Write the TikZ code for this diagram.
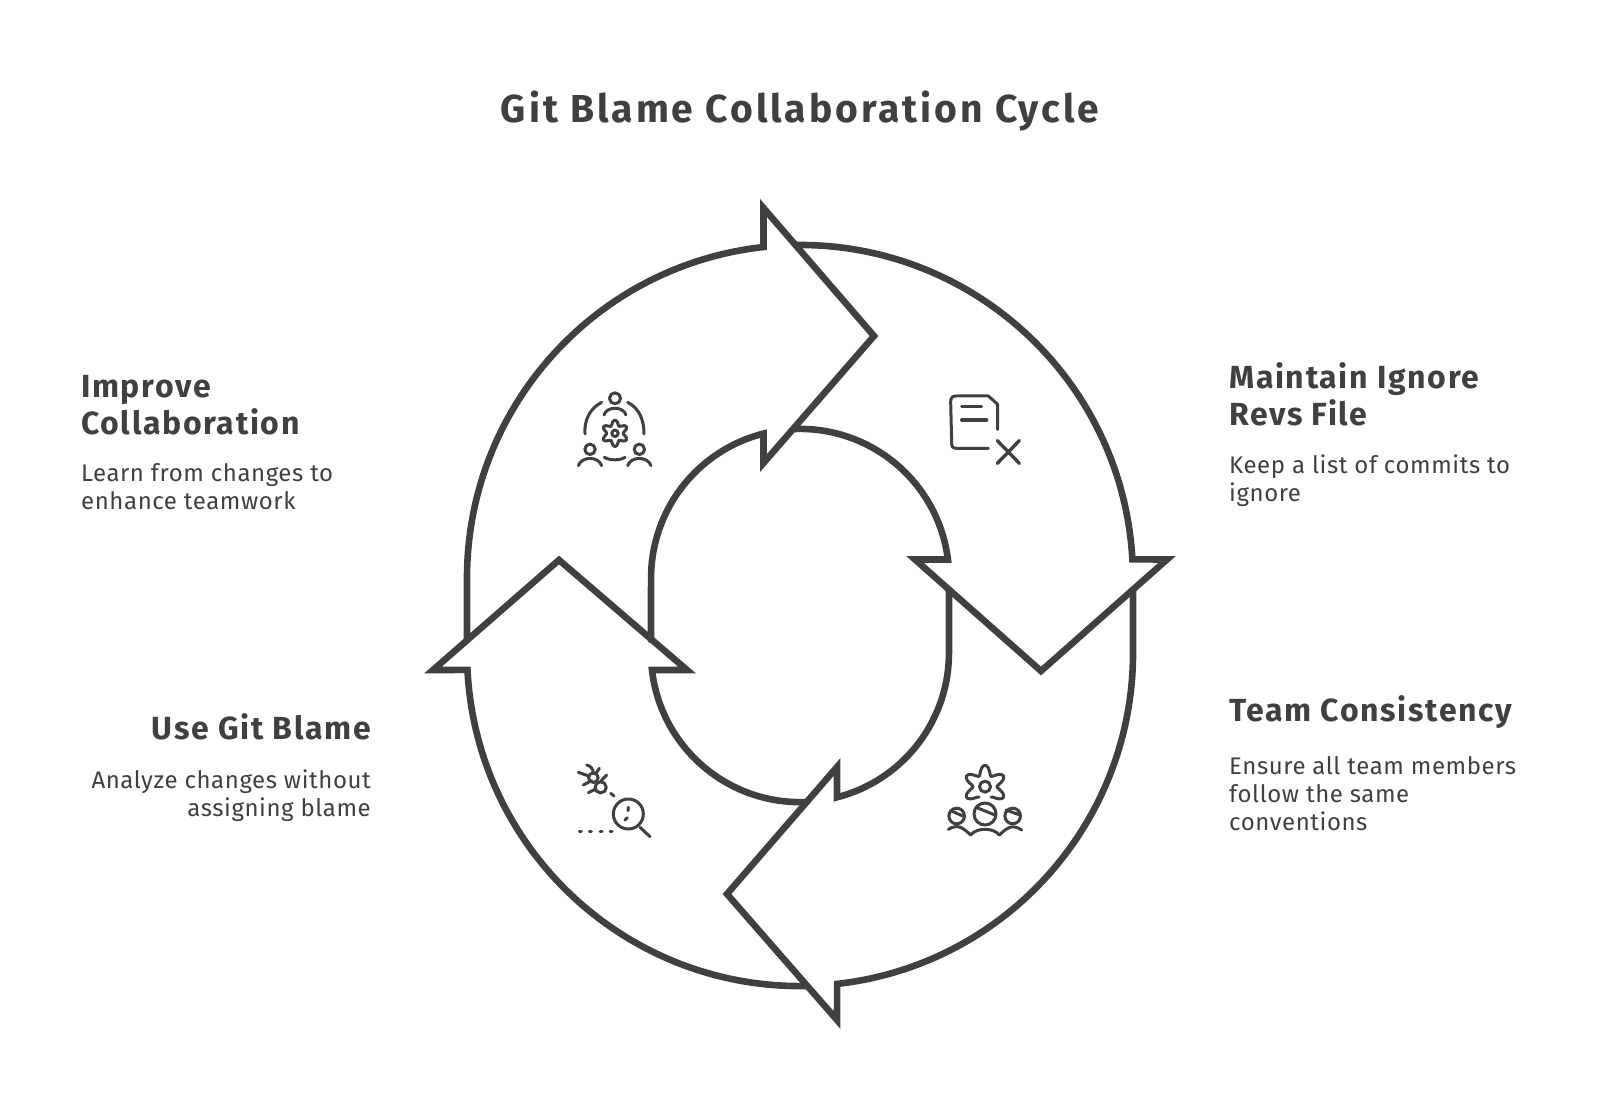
\documentclass[tikz,border=0pt]{standalone}
\usepackage{fontspec}
\setmainfont{Fira Sans}
\newfontfamily\titlefont[LetterSpace=7.6]{Fira Sans}
\newfontfamily\headfont[LetterSpace=5.2]{Fira Sans}
\newfontfamily\capfont[LetterSpace=2.4]{Fira Sans}
\definecolor{ink}{HTML}{404040}
\tikzset{
  ring/.style={draw=ink,line width=6.6pt,line join=miter,line cap=round},
  icon/.style={draw=ink,line width=3pt,line cap=round,line join=round},
  caption/.style={text=ink,inner sep=0pt,font=\capfont\fontsize{24}{28}\selectfont},
  heading/.style={text=ink,inner sep=0pt,font=\headfont\fontsize{32}{37}\selectfont\bfseries},
  maintitle/.style={text=ink,inner sep=0pt,font=\titlefont\fontsize{39}{44}\selectfont\bfseries}
}
\begin{document}
\begin{tikzpicture}[x=1pt,y=1pt]
  \useasboundingbox (0,0) rectangle (1600,1119);

  \node[maintitle] (title) at (800,1008) {Git Blame Collaboration Cycle};

  % the ring, upper centre (800,541), lower centre (800,466)
  \draw[ring] (467,479) -- (467,541) arc (180:96.3:333)
    -- (763.5,911) -- (874,783) -- (763.5,656) -- (763.5,685.4)
    arc (104.2:180:149) -- (651,479);
  \draw[ring] (797,874) arc (90.5:3.2:333)
    -- (1167,559.5) -- (1041,448) -- (915,559.5) -- (947.9,559.5)
    arc (7.1:92.7:149);
  \draw[ring] (1133,529) -- (1133,466) arc (0:-83.6:333)
    -- (837,99) -- (727,225) -- (837,352) -- (837,321.7)
    arc (-75.6:0:149) -- (949,529);
  \draw[ring] (807,133) arc (271.2:182.9:333)
    -- (433,449) -- (559,559) -- (687,449) -- (652,449)
    arc (186.5:272.7:149);

  % improve collaboration
  \begin{scope}[shift={(540,749)},x=1pt/3,y=-1pt/3]
    \draw[icon] (225,85) circle (5.5pt);
    \draw[icon] (192,135) .. controls (200,108) and (250,108) .. (258,135);
    \draw[icon] (185,97) .. controls (150,115) and (132,150) .. (135,192);
    \draw[icon] (263,97) .. controls (298,115) and (312,150) .. (312,192);
    \draw[icon] (150,238) circle (5.2pt);
    \draw[icon] (115,287) .. controls (125,258) and (175,258) .. (185,287);
    \draw[icon] (298,238) circle (5.2pt);
    \draw[icon] (263,287) .. controls (273,258) and (323,258) .. (333,287);
    \draw[icon] (193,262) .. controls (210,272) and (240,272) .. (255,262);
    \draw[icon] (225,190) circle (3.2pt);
    \draw[icon] plot[smooth cycle,samples=36,domain=0:350,shift={(225,190)}] (\x:{32+8*cos(6*(\x-90))});
  \end{scope}

  % maintain ignore revs
  \begin{scope}[shift={(920,749)},x=1pt/3,y=-1pt/3]
    \draw[icon] (205,235) -- (110,235) .. controls (98,235) and (95,230) .. (95,220)
      -- (92,95) .. controls (92,82) and (98,78) .. (110,78) -- (205,78) -- (233,103) -- (233,178);
    \draw[icon] (125,111) -- (185,111);
    \draw[icon,line width=3.4pt] (125,150) -- (200,150);
    \draw[icon,line width=3.4pt] (232,212) -- (298,280) (298,212) -- (232,280);
  \end{scope}

  % use git blame
  \begin{scope}[shift={(560,379)},x=1pt/3,y=-1pt/3]
    \draw[icon] (100,113) circle (4.8pt);
    \draw[icon] (122,142) circle (5.6pt);
    \draw[icon] (80,75) .. controls (92,78) and (98,85) .. (100,98);
    \draw[icon] (55,97) -- (86,108) (70,135) -- (95,122);
    \draw[icon] (118,85) -- (108,100) (140,105) -- (122,124);
    \draw[icon] (85,158) -- (106,148);
    \draw[icon] (152,160) -- (162,168);
    \draw[icon] (205,222) circle (15pt);
    \draw[icon] (240,262) -- (270,290);
    \draw[icon] (205,202) -- (204,212) (195,240) -- (202,233);
    \draw[icon] (58,274) -- (64,274) (88,274) -- (94,274) (120,274) -- (126,274) (150,274) -- (156,274);
  \end{scope}

  % team consistency
  \begin{scope}[shift={(930,369)},x=1pt/3,y=-1pt/3]
    \draw[icon] plot[smooth,samples=61,domain=120:420,shift={(165,110)}] (\x:{50+14*cos(6*(\x-90))});
    \draw[icon] (165,110) circle (5.5pt);
    \draw[icon] (80,198) circle (7.8pt);
    \draw[icon] (165,192) circle (11pt);
    \draw[icon] (248,198) circle (7.8pt);
    \draw[icon] (62,182) -- (103,200) (138,172) -- (195,195) (228,180) -- (270,195);
    \draw[icon] (55,238) .. controls (85,220) and (100,235) .. (122,255)
      .. controls (140,232) and (190,232) .. (208,255)
      .. controls (230,235) and (245,220) .. (275,240);
  \end{scope}

  % texts
  \node[heading,anchor=west,align=left] (improvehead) at (81,714) {Improve\\Collaboration};
  \node[caption,anchor=west,align=left] (improvetext) at (81,632) {Learn from changes to\\enhance teamwork};
  \node[heading,anchor=west,align=left] (maintainhead) at (1229,725) {Maintain Ignore\\Revs File};
  \node[caption,anchor=west,align=left] (maintaintext) at (1229,638.5) {Keep a list of commits to\\ignore};
  \node[heading,anchor=west] (teamhead) at (1229,407) {Team Consistency};
  \node[caption,anchor=west,align=left] (teamtext) at (1229,325.5) {Ensure all team members\\follow the same\\conventions};
  \node[heading,anchor=east] (blamehead) at (371,392) {Use Git Blame};
  \node[caption,anchor=east,align=right] (blametext) at (371,323) {Analyze changes without\\assigning blame};
\end{tikzpicture}
\end{document}
